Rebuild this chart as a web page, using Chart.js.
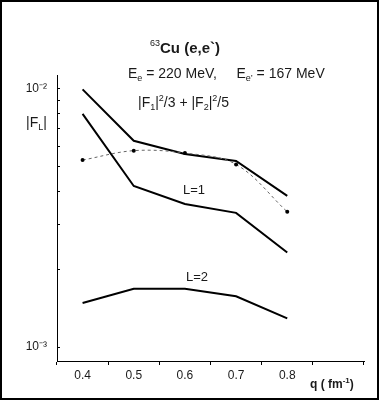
<!DOCTYPE html>
<html>
<head>
<meta charset="utf-8">
<script src="https://cdn.jsdelivr.net/npm/chart.js@4/dist/chart.umd.min.js"></script>
<style>
  html, body { margin: 0; padding: 0; background: #fff; }
  canvas { display: block; }
</style>
</head>
<body>
<canvas id="c" width="379" height="400"></canvas>
<script>
// ---- data ----
const categories = ['0.4', '0.5', '0.6', '0.7', '0.8', ''];
const sumValues  = [9.9e-3, 6.27e-3, 5.57e-3, 5.24e-3, 3.84e-3, null];   // |F1|^2/3 + |F2|^2/5
const l1Values   = [7.96e-3, 4.19e-3, 3.57e-3, 3.30e-3, 2.32e-3, null];  // L=1
const l2Values   = [1.48e-3, 1.68e-3, 1.68e-3, 1.57e-3, 1.29e-3, null];  // L=2
const expValues  = [5.28e-3, 5.74e-3, 5.62e-3, 5.08e-3, 3.33e-3, null];  // dotted with points
const yTickValues = [1e-3, 2e-3, 3e-3, 4e-3, 5e-3, 6e-3, 7e-3, 8e-3, 9e-3, 1e-2];
const yLabeled = { '0.001': '10\u207B\u00B3', '0.01': '10\u207B\u00B2' };
const yMin = 8.83e-4;
const yMax = 1.1255e-2;

const FONT = 'Liberation Sans, Arial, sans-serif';
const TXT = '#1a1a1a';

function drawRich(ctx, x, y, segs) {
  let cx = x;
  for (const s of segs) {
    ctx.font = (s.bold ? 'bold ' : '') + s.size + 'px ' + FONT;
    ctx.fillText(s.t, cx, y + (s.dy || 0));
    cx += ctx.measureText(s.t).width;
  }
}

const decor = {
  id: 'decor',
  beforeDraw(chart) {
    const ctx = chart.ctx;
    ctx.save();
    ctx.fillStyle = '#fff';
    ctx.fillRect(0, 0, chart.width, chart.height);
    ctx.restore();
  },
  afterDraw(chart) {
    const ctx = chart.ctx;
    const ys = chart.scales.y;
    const area = chart.chartArea;
    ctx.save();
    // inward minor ticks on the y axis
    ctx.strokeStyle = '#000';
    ctx.lineWidth = 1;
    ys.ticks.forEach(t => {
      const py = Math.round(ys.getPixelForValue(t.value)) + 0.5;
      ctx.beginPath();
      ctx.moveTo(area.left, py);
      ctx.lineTo(area.left + 3, py);
      ctx.stroke();
    });
    // texts
    ctx.fillStyle = TXT;
    ctx.textAlign = 'left';
    ctx.textBaseline = 'alphabetic';
    drawRich(ctx, 150, 53, [
      { t: '63', size: 9, bold: false, dy: -7 },
      { t: 'Cu (e,e`)', size: 15, bold: true }
    ]);
    drawRich(ctx, 128, 78, [
      { t: 'E', size: 14 }, { t: 'e', size: 9, dy: 3 },
      { t: ' = 220 MeV,     E', size: 14 }, { t: 'e\u2019', size: 9, dy: 3 },
      { t: ' = 167 MeV', size: 14 }
    ]);
    drawRich(ctx, 138, 107, [
      { t: '|F', size: 14 }, { t: '1', size: 9, dy: 3 },
      { t: '|', size: 14 }, { t: '2', size: 9, dy: -6 },
      { t: '/3 + |F', size: 14 }, { t: '2', size: 9, dy: 3 },
      { t: '|', size: 14 }, { t: '2', size: 9, dy: -6 },
      { t: '/5', size: 14 }
    ]);
    drawRich(ctx, 26, 127, [
      { t: '|F', size: 14 }, { t: 'L', size: 9, dy: 3 }, { t: '|', size: 14 }
    ]);
    ctx.textAlign = 'center';
    ctx.font = '13px ' + FONT;
    ctx.fillText('L=1', 194, 194);
    ctx.fillText('L=2', 197, 281);
    ctx.textAlign = 'left';
    drawRich(ctx, 310, 388, [
      { t: 'q ( fm', size: 12, bold: true },
      { t: '-1', size: 8, bold: true, dy: -5 },
      { t: ')', size: 12, bold: true }
    ]);
    // outer frame
    ctx.strokeStyle = '#000';
    ctx.lineWidth = 2;
    ctx.strokeRect(1, 1, chart.width - 2, chart.height - 2);
    ctx.restore();
  }
};

new Chart(document.getElementById('c'), {
  type: 'line',
  data: {
    labels: categories,
    datasets: [
      {
        label: 'calc',
        data: expValues,
        borderColor: '#666',
        borderWidth: 1,
        borderDash: [3, 3],
        tension: 0.35,
        pointRadius: 2,
        pointBackgroundColor: '#000',
        pointBorderColor: '#000',
        pointBorderWidth: 0
      },
      {
        label: 'sum',
        data: sumValues,
        borderColor: '#000',
        borderWidth: 2,
        pointRadius: 0,
        tension: 0
      },
      {
        label: 'L=1',
        data: l1Values,
        borderColor: '#000',
        borderWidth: 2,
        pointRadius: 0,
        tension: 0
      },
      {
        label: 'L=2',
        data: l2Values,
        borderColor: '#000',
        borderWidth: 2,
        pointRadius: 0,
        tension: 0
      }
    ]
  },
  options: {
    responsive: false,
    devicePixelRatio: 1,
    animation: false,
    layout: { padding: { top: 75, right: 15, left: 0, bottom: 0 } },
    plugins: {
      legend: { display: false },
      tooltip: { enabled: false },
      title: { display: false }
    },
    scales: {
      x: {
        type: 'category',
        offset: true,
        grid: {
          offset: true,
          drawOnChartArea: false,
          drawTicks: true,
          tickLength: 4,
          color: '#000',
          lineWidth: 1
        },
        border: { display: true, color: '#000', width: 1 },
        ticks: {
          font: { family: FONT, size: 12 },
          color: TXT,
          padding: 3,
          maxRotation: 0,
          autoSkip: false
        },
        afterFit: s => { s.height = 39; }
      },
      y: {
        type: 'logarithmic',
        min: yMin,
        max: yMax,
        afterBuildTicks: s => { s.ticks = yTickValues.map(v => ({ value: v })); },
        grid: { display: true, drawOnChartArea: false, drawTicks: false },
        border: { display: true, color: '#000', width: 1 },
        ticks: {
          font: { family: FONT, size: 12 },
          color: TXT,
          padding: 10,
          autoSkip: false,
          callback: v => {
            for (const k in yLabeled) {
              if (Math.abs(v - parseFloat(k)) < parseFloat(k) * 1e-6) return yLabeled[k];
            }
            return '';
          }
        },
        afterFit: s => { s.width = 57; }
      }
    }
  },
  plugins: [decor]
});
</script>
</body>
</html>
